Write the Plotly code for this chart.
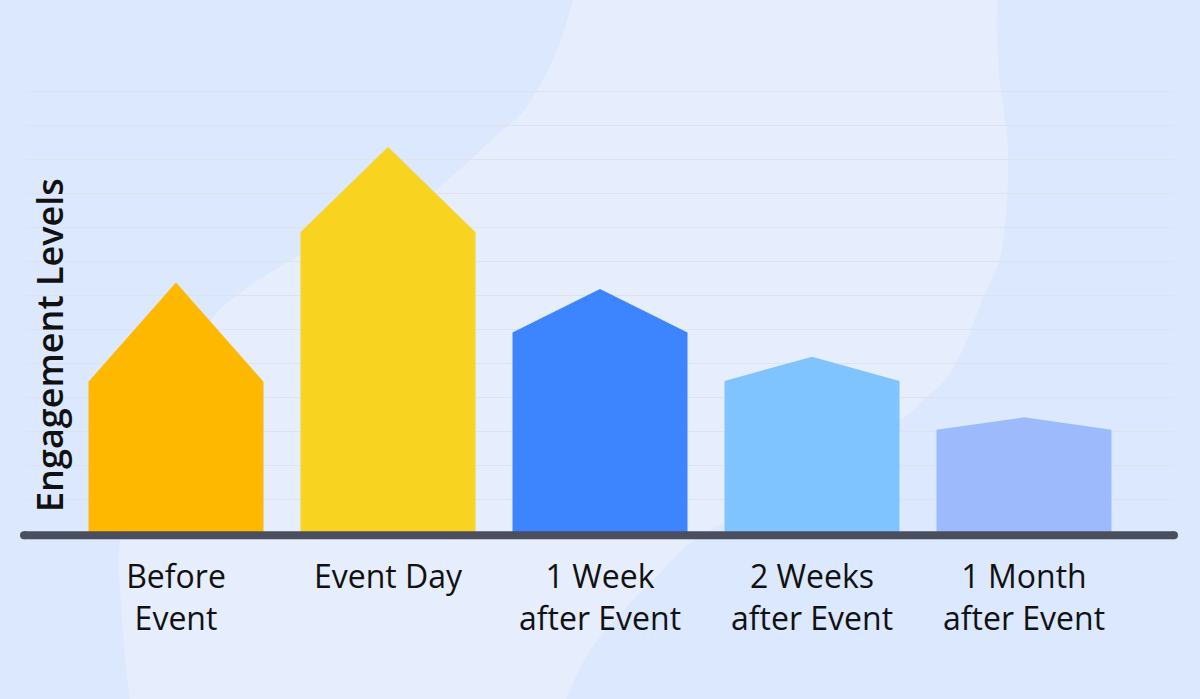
import plotly.graph_objects as go

# ---------------- data ----------------
categories = ["Before Event", "Event Day", "1 Week after Event", "2 Weeks after Event", "1 Month after Event"]
tick_labels = ["Before<br>Event", "Event Day", "1 Week<br>after Event", "2 Weeks<br>after Event", "1 Month<br>after Event"]
body_values = [44.6, 88.6, 59.1, 44.8, 30.4]     # height of the bar body (shoulder)
peak_values = [73.8, 113.7, 71.9, 51.9, 34.1]    # height of the arrow tip
bar_colors = ["#FFB800", "#F8D31F", "#3D84FF", "#80C4FF", "#9DBBFC"]
y_ticks = list(range(0, 140, 10))

# ---------------- layout geometry ----------------
FIG_W, FIG_H = 1200, 699
L, R, T, B = 26, 26, 85, 166
PW, PH = FIG_W - L - R, FIG_H - T - B

DARK_BG = "#DCE8FD"
LIGHT_BG = "#E6EDFC"
AXIS_COL = "#4A4E5F"


def px2paper(x, y):
    return (x - L) / PW, (FIG_H - B - y) / PH


def spline(points):
    """Catmull-Rom spline through pixel points -> list of SVG cubic commands (paper units)."""
    pts = [px2paper(x, y) for x, y in points]
    cmds = []
    n = len(pts)
    for i in range(n - 1):
        p0 = pts[i - 1] if i > 0 else pts[i]
        p1 = pts[i]
        p2 = pts[i + 1]
        p3 = pts[i + 2] if i + 2 < n else pts[i + 1]
        c1 = (p1[0] + (p2[0] - p0[0]) / 6, p1[1] + (p2[1] - p0[1]) / 6)
        c2 = (p2[0] - (p3[0] - p1[0]) / 6, p2[1] - (p3[1] - p1[1]) / 6)
        cmds.append(f"C {c1[0]:.5f},{c1[1]:.5f} {c2[0]:.5f},{c2[1]:.5f} {p2[0]:.5f},{p2[1]:.5f}")
    return pts, cmds


left_curve = [(574, -4), (557, 50), (528, 105), (497, 135), (450, 178), (420, 200), (360, 228),
              (300, 255), (240, 293), (207, 325), (170, 390), (140, 460), (120, 540), (122, 620), (130, 703)]
right_curve = [(565, 703), (580, 668), (600, 637), (633, 600), (660, 573), (690, 543), (723, 523),
               (812, 472), (900, 420), (923, 400), (945, 380), (965, 345), (982, 300), (993, 277),
               (1002, 250), (1007, 200), (1008, 167), (1007, 133), (1000, 83), (997, 33), (998, -4)]

lp, lcmds = spline(left_curve)
rp, rcmds = spline(right_curve)
blob_path = (f"M {lp[0][0]:.5f},{lp[0][1]:.5f} " + " ".join(lcmds) +
             f" L {rp[0][0]:.5f},{rp[0][1]:.5f} " + " ".join(rcmds) + " Z")

# ---------------- figure ----------------
fig = go.Figure()

half_w = 0.4127
for i, (cat, body, peak, col) in enumerate(zip(categories, body_values, peak_values, bar_colors)):
    fig.add_trace(go.Scatter(
        x=[i - half_w, i - half_w, i, i + half_w, i + half_w],
        y=[0, body, peak, body, 0],
        mode="lines", fill="toself", fillcolor=col,
        line=dict(width=0, color=col),
        name=cat, hoverinfo="skip", showlegend=False,
    ))

shapes = [
    dict(type="path", path=blob_path, xref="paper", yref="paper",
         fillcolor=LIGHT_BG, line=dict(width=0), layer="below"),
]
x_start = px2paper(24, 0)[0]
x_end = px2paper(1174, 0)[0]
y_base = px2paper(0, 535.3)[1]
shapes.append(dict(type="line", xref="paper", yref="paper", x0=x_start, x1=x_end, y0=y_base, y1=y_base,
                   line=dict(color=AXIS_COL, width=8), layer="above"))
for xa in (x_start, x_end):
    shapes.append(dict(type="circle", xref="paper", yref="paper", xsizemode="pixel", ysizemode="pixel",
                       xanchor=xa, yanchor=y_base, x0=-4, x1=4, y0=-4, y1=4,
                       fillcolor=AXIS_COL, line=dict(width=0), layer="above"))

fig.update_layout(
    width=FIG_W, height=FIG_H,
    margin=dict(l=L, r=R, t=T, b=B, pad=0),
    paper_bgcolor=DARK_BG, plot_bgcolor="rgba(0,0,0,0)",
    shapes=shapes,
    showlegend=False,
    xaxis=dict(range=[-0.7075, 4.7075], tickmode="array", tickvals=list(range(len(categories))),
               ticktext=tick_labels, showgrid=False, zeroline=False, showline=False, ticks="",
               ticklabelstandoff=22,
               tickfont=dict(family="Open Sans", size=32, color="#111111"), fixedrange=True),
    yaxis=dict(range=[0, 132], tickmode="array", tickvals=y_ticks, showgrid=True,
               gridcolor="#DDE2EC", gridwidth=1, zeroline=False, showline=False,
               showticklabels=False, ticks="", fixedrange=True),
    annotations=[dict(text="Engagement Levels", textangle=-90, xref="paper", yref="paper",
                      x=px2paper(49, 0)[0], y=px2paper(0, 345)[1], xanchor="center", yanchor="middle",
                      showarrow=False,
                      font=dict(family="Open Sans", size=36, color="#111111", weight=600))],
)

fig.write_html("out.html", config={"displayModeBar": False},
               post_script="document.body.style.margin='0';document.body.style.overflow='hidden';")
